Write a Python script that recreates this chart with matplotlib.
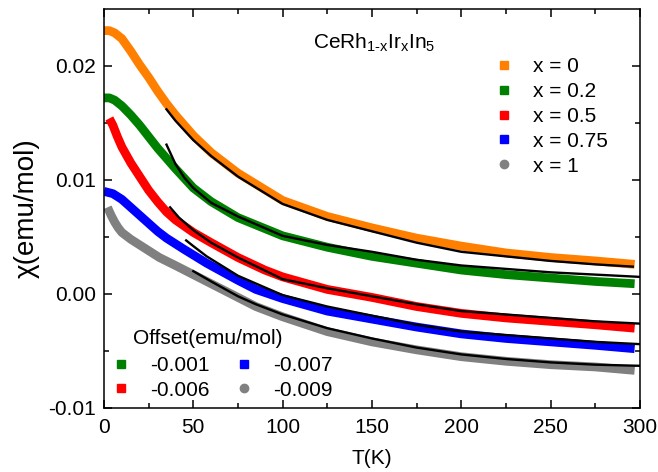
# Susceptibility of CeRh(1-x)Ir(x)In5 vs temperature, with fitted curves
import matplotlib
matplotlib.use('Agg')
import matplotlib.pyplot as plt
from matplotlib.lines import Line2D

plt.rcParams['font.family'] = ['Liberation Sans', 'DejaVu Sans']
plt.rcParams['axes.unicode_minus'] = False

# measured data (offsets already applied)
T_x0 = [0, 3, 6, 10, 15, 20, 25, 30, 35, 40, 50, 60, 75, 100, 125, 150, 175, 200, 225, 250, 275, 297]
chi_x0 = [0.0231, 0.0231, 0.0229, 0.0224, 0.0213, 0.0201, 0.0190, 0.0178, 0.0167, 0.0157, 0.0139,
          0.0124, 0.0106, 0.0082, 0.0068, 0.0058, 0.0049, 0.0042, 0.0036, 0.0032, 0.0029, 0.0026]

T_x02 = [0, 3, 6, 10, 15, 20, 25, 30, 40, 50, 60, 75, 100, 125, 150, 175, 200, 225, 250, 275, 297]
chi_x02 = [0.0172, 0.0172, 0.0170, 0.0165, 0.0157, 0.0148, 0.0138, 0.0128, 0.0110, 0.0093, 0.0081,
           0.0067, 0.0051, 0.0041, 0.0033, 0.0027, 0.0021, 0.0017, 0.0014, 0.0011, 0.0009]

T_x05 = [3, 5, 7.5, 10, 15, 20, 25, 30, 35, 40, 50, 60, 75, 90, 100, 125, 150, 175, 200, 225, 250, 275, 297]
chi_x05 = [0.0154, 0.0148, 0.0138, 0.0129, 0.0115, 0.0103, 0.0091, 0.0081, 0.0072, 0.0065, 0.0054, 0.0045,
           0.0032, 0.0021, 0.0015, 0.0004, -0.0003, -0.0011, -0.0017, -0.0021, -0.0024, -0.0027, -0.0030]

T_x075 = [0, 5, 10, 15, 20, 25, 30, 35, 45, 57.5, 75, 85, 100, 125, 150, 175, 200, 225, 250, 275, 297]
chi_x075 = [0.0090, 0.0088, 0.0083, 0.0076, 0.0069, 0.0062, 0.0055, 0.0049, 0.0039, 0.0027, 0.0012,
            0.0004, -0.0004, -0.0015, -0.0022, -0.0029, -0.0035, -0.0039, -0.0042, -0.0045, -0.0048]

T_x1 = [2, 4, 6, 8, 10, 15, 20, 25, 31, 40, 50, 57.5, 75, 85, 100, 125, 150, 175, 200, 225, 250, 275, 297]
chi_x1 = [0.0076, 0.0069, 0.0063, 0.0058, 0.0054, 0.0048, 0.0043, 0.0038, 0.0032, 0.0025, 0.0017, 0.0011,
          -0.0003, -0.0011, -0.0020, -0.0033, -0.0042, -0.0049, -0.0055, -0.0059, -0.0062, -0.0064, -0.0067]

# fitted curves
Tf_x0 = [35, 40, 50, 60, 75, 100, 125, 150, 175, 200, 225, 250, 275, 296]
fit_x0 = [0.0162, 0.0152, 0.0135, 0.0121, 0.0103, 0.0079, 0.0065, 0.0055, 0.0045, 0.0037, 0.0033,
          0.0029, 0.0026, 0.0024]
Tf_x02 = [35, 40, 45, 50, 60, 75, 100, 125, 150, 175, 200, 225, 250, 275, 300]
fit_x02 = [0.0131, 0.0114, 0.0102, 0.0093, 0.0080, 0.0068, 0.0051, 0.0043, 0.0037, 0.0030, 0.0025,
           0.0022, 0.0019, 0.0017, 0.0015]
Tf_x05 = [37, 42, 50, 60, 75, 100, 125, 150, 175, 200, 225, 250, 275, 300]
fit_x05 = [0.0076, 0.0067, 0.0056, 0.0045, 0.0032, 0.0013, 0.0005, -0.0002, -0.0009, -0.0015, -0.0018,
           -0.0021, -0.0024, -0.0026]
Tf_x075 = [46, 50, 57.5, 75, 100, 125, 150, 175, 200, 225, 250, 275, 300]
fit_x075 = [0.0047, 0.0042, 0.0033, 0.0016, -0.0001, -0.0011, -0.0019, -0.0027, -0.0033, -0.0036,
            -0.0039, -0.0042, -0.0044]
Tf_x1 = [50, 60, 75, 85, 100, 125, 150, 175, 200, 225, 250, 275, 300]
fit_x1 = [0.0020, 0.0011, -0.0002, -0.0009, -0.0018, -0.0030, -0.0039, -0.0047, -0.0053, -0.0057,
          -0.0060, -0.0062, -0.0063]

labels = ['x = 0', 'x = 0.2', 'x = 0.5', 'x = 0.75', 'x = 1']
offsets = ['-0.001', '-0.006', '-0.007', '-0.009']
colors = ['#ff8000', '#008000', '#ff0000', '#0000ff', '#808080']
markers = ['s', 's', 's', 's', 'o']

fig = plt.figure(figsize=(6.58, 4.72), dpi=100)
ax = fig.add_axes([0.158, 0.1356, 0.8146, 0.8454])

data = [(T_x0, chi_x0), (T_x02, chi_x02), (T_x05, chi_x05), (T_x075, chi_x075), (T_x1, chi_x1)]
fits = [(Tf_x0, fit_x0), (Tf_x02, fit_x02), (Tf_x05, fit_x05), (Tf_x075, fit_x075), (Tf_x1, fit_x1)]

for (T, chi), c in zip(data, colors):
    ax.plot(T, chi, color=c, lw=6.3, solid_capstyle='butt', solid_joinstyle='round')
for T, chi in fits:
    ax.plot(T, chi, color='black', lw=1.7)

ax.set_xlim(0, 300)
ax.set_ylim(-0.01, 0.025)
ax.set_xticks([0, 50, 100, 150, 200, 250, 300])
ax.set_xticks([25, 75, 125, 175, 225, 275], minor=True)
ax.set_yticks([-0.01, 0.0, 0.01, 0.02])
ax.set_yticks([-0.005, 0.005, 0.015], minor=True)
ax.set_yticklabels(['-0.01', '0.00', '0.01', '0.02'])
ax.tick_params(which='both', direction='in', top=True, right=True, labelsize=15, width=1.1)
ax.tick_params(which='major', length=6)
ax.tick_params(which='minor', length=3.5)
ax.tick_params(axis='x', pad=7)
ax.tick_params(axis='y', pad=6)
for s in ax.spines.values():
    s.set_linewidth(1.1)

ax.set_xlabel('T(K)', fontsize=15, labelpad=9)
ax.set_ylabel('χ(emu/mol)', fontsize=20, labelpad=6)

ax.text(0.39, 0.915, 'CeRh$_{\\mathregular{1\u2010x}}$Ir$_\\mathregular{x}$In$_\\mathregular{5}$',
        transform=ax.transAxes, fontsize=15, va='center', ha='left')

# legend for compositions
h1 = [Line2D([], [], ls='none', marker=m, color=c, markersize=6) for m, c in zip(markers, colors)]
leg1 = ax.legend(h1, labels, loc='upper left', bbox_to_anchor=(0.707, 0.90), frameon=False,
                 fontsize=15, handlelength=1.2, handletextpad=0.8, labelspacing=0.28, borderaxespad=0)
ax.add_artist(leg1)

# legend for offsets
ax.text(0.054, 0.175, 'Offset(emu/mol)', transform=ax.transAxes, fontsize=15, va='center', ha='left')
h2 = [Line2D([], [], ls='none', marker=markers[i], color=colors[i], markersize=6) for i in [1, 2, 3, 4]]
leg2 = ax.legend(h2, offsets, loc='lower left', bbox_to_anchor=(-0.007, 0.0), ncol=2, frameon=False,
                 fontsize=15, handlelength=1.2, handletextpad=0.8, columnspacing=1.03,
                 labelspacing=0.28, borderaxespad=0)

fig.savefig('out.png', dpi=100)
